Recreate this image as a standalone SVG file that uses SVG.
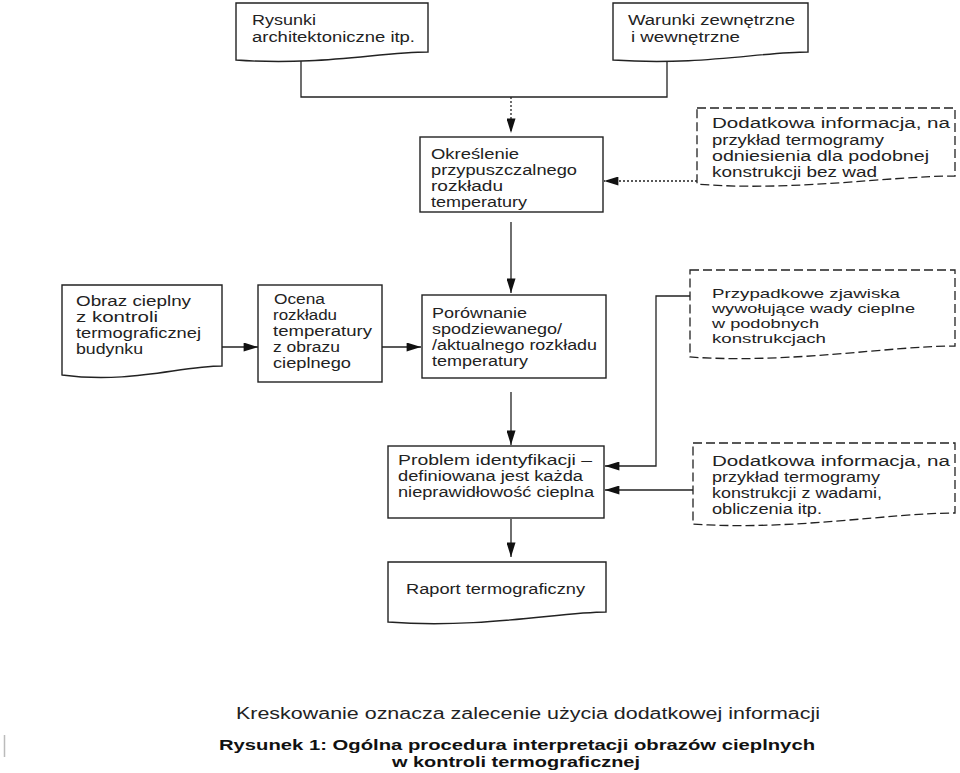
<svg xmlns="http://www.w3.org/2000/svg" width="960" height="773" viewBox="0 0 960 773">
<style>
.box{fill:#fff;stroke:#222;stroke-width:1.4}
.dbox{fill:#fff;stroke:#222;stroke-width:1.3;stroke-dasharray:9 4}
.t{font-family:"Liberation Sans",Arial,sans-serif;font-size:14px;fill:#222}
.ts{font-family:"Liberation Sans",Arial,sans-serif;font-size:13px;fill:#222}
.cap{font-family:"Liberation Sans",Arial,sans-serif;font-size:16px;fill:#222}
.capb{font-family:"Liberation Sans",Arial,sans-serif;font-size:15px;font-weight:bold;fill:#111}
.c{fill:none;stroke:#222;stroke-width:1.3}
.cd{fill:none;stroke:#222;stroke-width:1.3;stroke-dasharray:2 2}
</style>
<defs>
<marker id="ah" viewBox="0 0 16 10" refX="16" refY="5" markerWidth="16" markerHeight="9" markerUnits="userSpaceOnUse" orient="auto">
<path d="M0,0 L16,5 L0,10 Z" fill="#111"/>
</marker>
</defs>
<rect width="960" height="773" fill="#fff"/>

<g id="connectors">
<path class="c" d="M301,60 V97 H667 V55"/>
<path class="cd" d="M511,97 V133" marker-end="url(#ah)"/>
<path class="cd" d="M697,181 H604" marker-end="url(#ah)"/>
<path class="c" d="M511,222 V293" marker-end="url(#ah)"/>
<path class="c" d="M222,347 H258" marker-end="url(#ah)"/>
<path class="c" d="M382,347 H421" marker-end="url(#ah)"/>
<path class="c" d="M511,392 V445" marker-end="url(#ah)"/>
<path class="c" d="M690,296 H656 V466 H605" marker-end="url(#ah)"/>
<path class="c" d="M693,490 H605" marker-end="url(#ah)"/>
<path class="c" d="M511,519 V557" marker-end="url(#ah)"/>
</g>

<g id="rysunki">
<path class="box" d="M236,3 H428 V52 C380,52 320,66 236,60 Z"/>
<text class="t" x="252" y="25" textLength="64" lengthAdjust="spacingAndGlyphs">Rysunki</text>
<text class="t" x="252" y="42" textLength="163" lengthAdjust="spacingAndGlyphs">architektoniczne itp.</text>
</g>

<g id="warunki">
<path class="box" d="M613,3 H808 V52 C760,52 700,66 613,60 Z"/>
<text class="t" x="628" y="25" textLength="167" lengthAdjust="spacingAndGlyphs">Warunki zewnętrzne</text>
<text class="t" x="631" y="42" textLength="109" lengthAdjust="spacingAndGlyphs">i wewnętrzne</text>
</g>

<g id="okreslenie">
<rect class="box" x="420" y="137" width="183" height="75"/>
<text class="t" x="431" y="159" textLength="88" lengthAdjust="spacingAndGlyphs">Określenie</text>
<text class="t" x="431" y="175" textLength="146" lengthAdjust="spacingAndGlyphs">przypuszczalnego</text>
<text class="t" x="431" y="191" textLength="72" lengthAdjust="spacingAndGlyphs">rozkładu</text>
<text class="t" x="431" y="207" textLength="96" lengthAdjust="spacingAndGlyphs">temperatury</text>
</g>

<g id="dodatkowa1">
<path class="dbox" d="M697,108 H955 V176 C890,176 790,192 697,184 Z"/>
<text class="t" x="712" y="128" textLength="238" lengthAdjust="spacingAndGlyphs">Dodatkowa informacja, na</text>
<text class="t" x="712" y="145" textLength="172" lengthAdjust="spacingAndGlyphs">przykład termogramy</text>
<text class="t" x="712" y="161" textLength="217" lengthAdjust="spacingAndGlyphs">odniesienia dla podobnej</text>
<text class="t" x="712" y="177" textLength="165" lengthAdjust="spacingAndGlyphs">konstrukcji bez wad</text>
</g>

<g id="obraz">
<path class="box" d="M62,285 H222 V366 C180,366 130,384 62,375 Z"/>
<text class="t" x="76" y="306" textLength="115" lengthAdjust="spacingAndGlyphs">Obraz cieplny</text>
<text class="t" x="76" y="322" textLength="82" lengthAdjust="spacingAndGlyphs">z kontroli</text>
<text class="t" x="76" y="338" textLength="125" lengthAdjust="spacingAndGlyphs">termograficznej</text>
<text class="t" x="76" y="354" textLength="67" lengthAdjust="spacingAndGlyphs">budynku</text>
</g>

<g id="ocena">
<rect class="box" x="258" y="285" width="124" height="97"/>
<text class="t" x="274" y="304" textLength="51" lengthAdjust="spacingAndGlyphs">Ocena</text>
<text class="t" x="273" y="320" textLength="64" lengthAdjust="spacingAndGlyphs">rozkładu</text>
<text class="t" x="273" y="336" textLength="99" lengthAdjust="spacingAndGlyphs">temperatury</text>
<text class="t" x="273" y="352" textLength="67" lengthAdjust="spacingAndGlyphs">z obrazu</text>
<text class="t" x="273" y="368" textLength="78" lengthAdjust="spacingAndGlyphs">cieplnego</text>
</g>

<g id="porownanie">
<rect class="box" x="422" y="295" width="184" height="83"/>
<text class="t" x="432" y="318" textLength="95" lengthAdjust="spacingAndGlyphs">Porównanie</text>
<text class="t" x="432" y="334" textLength="130" lengthAdjust="spacingAndGlyphs">spodziewanego/</text>
<text class="t" x="432" y="350" textLength="165" lengthAdjust="spacingAndGlyphs">/aktualnego rozkładu</text>
<text class="t" x="432" y="366" textLength="96" lengthAdjust="spacingAndGlyphs">temperatury</text>
</g>

<g id="przypadkowe">
<path class="dbox" d="M690,270 H955 V346 C890,346 790,364 690,357 Z"/>
<text class="ts" x="712" y="298" textLength="188" lengthAdjust="spacingAndGlyphs">Przypadkowe zjawiska</text>
<text class="ts" x="712" y="313" textLength="203" lengthAdjust="spacingAndGlyphs">wywołujące wady cieplne</text>
<text class="ts" x="712" y="328" textLength="107" lengthAdjust="spacingAndGlyphs">w podobnych</text>
<text class="ts" x="712" y="343" textLength="114" lengthAdjust="spacingAndGlyphs">konstrukcjach</text>
</g>

<g id="problem">
<rect class="box" x="388" y="446" width="216" height="72"/>
<text class="t" x="398" y="465" textLength="194" lengthAdjust="spacingAndGlyphs">Problem identyfikacji –</text>
<text class="t" x="398" y="481" textLength="185" lengthAdjust="spacingAndGlyphs">definiowana jest każda</text>
<text class="t" x="398" y="497" textLength="196" lengthAdjust="spacingAndGlyphs">nieprawidłowość cieplna</text>
</g>

<g id="dodatkowa2">
<path class="dbox" d="M693,443 H955 V513 C890,513 790,531 693,524 Z"/>
<text class="t" x="712" y="466" textLength="238" lengthAdjust="spacingAndGlyphs">Dodatkowa informacja, na</text>
<text class="t" x="712" y="482" textLength="168" lengthAdjust="spacingAndGlyphs">przykład termogramy</text>
<text class="t" x="712" y="498" textLength="170" lengthAdjust="spacingAndGlyphs">konstrukcji z wadami,</text>
<text class="t" x="712" y="514" textLength="110" lengthAdjust="spacingAndGlyphs">obliczenia itp.</text>
</g>

<g id="raport">
<path class="box" d="M388,562 H606 V612 C560,612 480,629 388,622 Z"/>
<text class="t" x="406" y="594" textLength="179" lengthAdjust="spacingAndGlyphs">Raport termograficzny</text>
</g>

<g id="caption">
<text class="cap" x="236" y="719" textLength="584" lengthAdjust="spacingAndGlyphs">Kreskowanie oznacza zalecenie użycia dodatkowej informacji</text>
<text class="capb" x="219" y="750" textLength="596" lengthAdjust="spacingAndGlyphs">Rysunek 1: Ogólna procedura interpretacji obrazów cieplnych</text>
<text class="capb" x="392" y="767" textLength="248" lengthAdjust="spacingAndGlyphs">w kontroli termograficznej</text>
<line x1="4.5" y1="735" x2="4.5" y2="757" stroke="#bbb" stroke-width="1.5"/>
</g>
</svg>
